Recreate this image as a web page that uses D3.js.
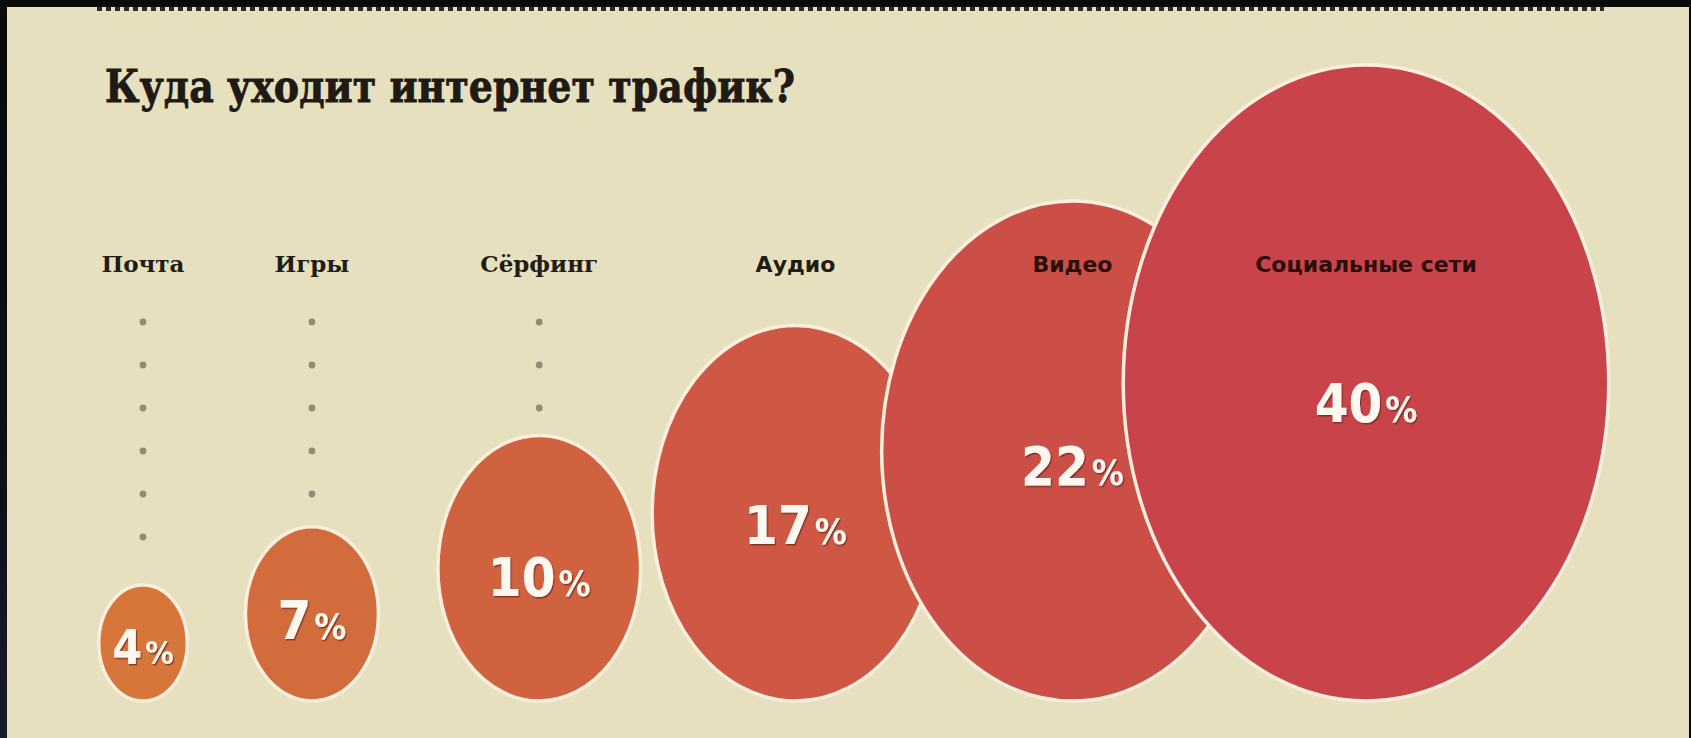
<!DOCTYPE html>
<html><head><meta charset="utf-8">
<script src="https://cdn.jsdelivr.net/npm/d3@7"></script>
<style>html,body{margin:0;padding:0;background:#000;overflow:hidden}</style>
</head><body>
<svg id="chart" width="1691" height="738"></svg>
<script>
// ---- data ----
const title = "Куда уходит интернет трафик?";
const categories = ["Почта", "Игры", "Сёрфинг", "Аудио", "Видео", "Социальные сети"];
const shares = [4, 7, 10, 17, 22, 40];
const valueLabels = ["4", "7", "10", "17", "22", "40"];
const labelFontKind = ["serif", "serif", "serif", "sans", "sans", "sans"];

// ---- layout ----
const W = 1691, H = 738;
const svg = d3.select("#chart");
const defs = svg.append("defs");

const lg = defs.append("linearGradient").attr("id", "edge").attr("x1", 0).attr("y1", 0).attr("x2", 0).attr("y2", 1);
lg.append("stop").attr("offset", "0%").attr("stop-color", "#0a0a0a");
lg.append("stop").attr("offset", "60%").attr("stop-color", "#0c0f16");
lg.append("stop").attr("offset", "100%").attr("stop-color", "#141d2c");

const sh = defs.append("filter").attr("id", "tshadow").attr("x", "-20%").attr("y", "-20%").attr("width", "140%").attr("height", "140%");
sh.append("feDropShadow").attr("dx", 1.2).attr("dy", 1.5).attr("stdDeviation", 0.6).attr("flood-color", "#6b2418").attr("flood-opacity", 0.7);

svg.append("rect").attr("width", W).attr("height", H).attr("fill", "#0a0a0a");
svg.append("rect").attr("x", 0).attr("y", 0).attr("width", 7).attr("height", H).attr("fill", "url(#edge)");
svg.append("rect").attr("x", 7).attr("y", 7).attr("width", 1682).attr("height", H - 7).attr("fill", "#E6E0BF");

// dotted top rule
svg.append("line")
  .attr("x1", 97).attr("x2", 1604).attr("y1", 9).attr("y2", 9)
  .attr("stroke", "#2b2a1d").attr("stroke-width", 4).attr("stroke-dasharray", "5,4");

// title
svg.append("text")
  .attr("x", 105).attr("y", 102)
  .attr("font-family", "'DejaVu Serif Condensed', 'DejaVu Serif', serif")
  .attr("font-weight", "bold").attr("font-size", 45)
  .attr("fill", "#1f1a13").attr("stroke", "#1f1a13").attr("stroke-width", 0.8)
  .attr("textLength", 690).attr("lengthAdjust", "spacingAndGlyphs")
  .text(title);

// scales (bubble size follows the rank of the share, as in the original infographic)
const n = categories.length;
const rank = shares.map(v => shares.filter(s => s < v).length);
const x = d3.scalePow().exponent(1.23).domain([0, n - 1]).range([143, 1366]);
const ry = d3.scalePow().exponent(1.36).domain([0, n - 1]).range([58, 318]);
const aspect = 1.31;
const baseY = 701;
const color = d3.scaleLinear().domain([0, n - 1]).range(["#D6763A", "#C8444A"]);

const data = d3.range(n).map(i => {
  const r = ry(rank[i]);
  return { i, cat: categories[i], v: shares[i], lab: valueLabels[i], kind: labelFontKind[i],
           cx: x(i), ry: r, rx: r / aspect, cy: baseY - r };
});

// dotted leader lines
const dotStart = 322, dotStep = 43;
data.forEach(d => {
  const top = d.cy - d.ry;
  const ys = [];
  for (let y = dotStart; y < top - 15; y += dotStep) ys.push(y);
  svg.append("g").selectAll("circle").data(ys).join("circle")
    .attr("cx", d.cx).attr("cy", y => y).attr("r", 3.4)
    .attr("fill", "#8f8e74");
});

// bubbles
const g = svg.append("g").selectAll("g").data(data).join("g");
g.append("ellipse")
  .attr("cx", d => d.cx).attr("cy", d => d.cy)
  .attr("rx", d => d.rx).attr("ry", d => d.ry)
  .attr("fill", d => color(d.i))
  .attr("stroke", "#FBEEDC").attr("stroke-width", 3.5);

const t = g.append("text")
  .attr("x", d => d.cx).attr("y", d => baseY - d.ry * 0.94)
  .attr("dy", "0.36em")
  .attr("text-anchor", "middle")
  .attr("font-family", "'DejaVu Sans Condensed', 'DejaVu Sans', sans-serif")
  .attr("font-weight", "bold")
  .attr("font-size", d => d.v < 5 ? 48 : 54)
  .attr("fill", "#FFF8F0")
  .attr("filter", "url(#tshadow)");
t.append("tspan").text(d => d.lab);
t.append("tspan").attr("font-size", "0.66em").attr("dx", 3).text("%");

// category labels
svg.append("g").selectAll("text").data(data).join("text")
  .attr("x", d => d.cx).attr("y", 272)
  .attr("text-anchor", "middle")
  .attr("font-family", d => d.kind === "serif" ? "'DejaVu Serif', serif" : "'DejaVu Sans', sans-serif")
  .attr("font-weight", "bold")
  .attr("font-size", d => d.kind === "serif" ? 23 : 22)
  .attr("fill", d => d.i >= 4 ? "#2a0e0a" : "#221c14")
  .text(d => d.cat);
</script>
</body></html>
